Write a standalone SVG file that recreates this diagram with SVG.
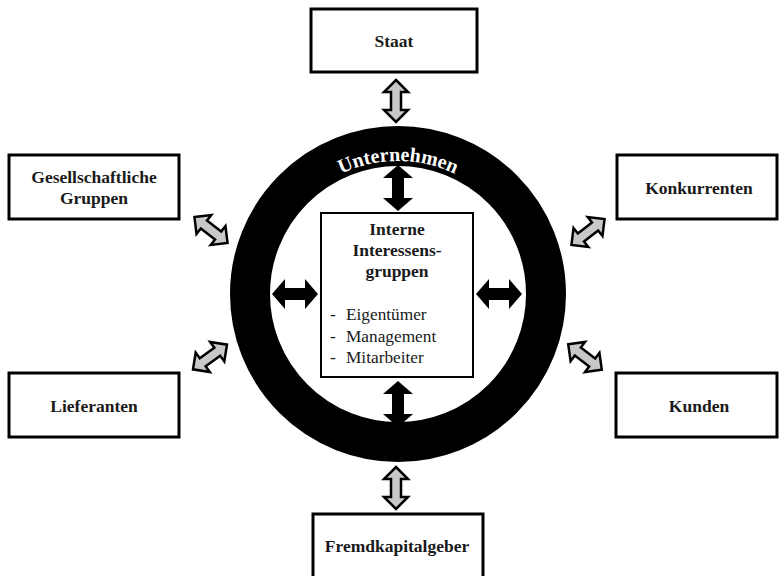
<svg xmlns="http://www.w3.org/2000/svg" width="780" height="576" viewBox="0 0 780 576">
<style>
.box{fill:#fff;stroke:#000;stroke-width:3}
.t{font-family:"Liberation Serif","Times New Roman",serif;font-weight:bold;font-size:17.5px;fill:#1a1a1a;text-anchor:middle}
.n{font-family:"Liberation Serif","Times New Roman",serif;font-size:17.3px;fill:#1a1a1a}
.ga{fill:#c8c8c8;stroke:#000;stroke-width:2.5;stroke-linejoin:miter}
.ba{fill:#000}
</style>
<defs>
<path id="garrow" class="ga" d="M -21 0 L -9 -12 L -9 -5 L 9 -5 L 9 -12 L 21 0 L 9 12 L 9 5 L -9 5 L -9 12 Z"/>
<path id="barrow" class="ba" d="M -23 0 L -10 -15 L -10 -6 L 10 -6 L 10 -15 L 23 0 L 10 15 L 10 6 L -10 6 L -10 15 Z"/>
<path id="arcpath" d="M 265 294 A 133 133 0 0 1 531 294"/>
</defs>
<rect width="780" height="576" fill="#fff"/>

<g id="ring">
<circle cx="398" cy="294" r="148" fill="none" stroke="#000" stroke-width="40"/>
<text font-family="'Liberation Serif','Times New Roman',serif" font-weight="bold" font-size="20" fill="#fff"><textPath href="#arcpath" startOffset="50%" text-anchor="middle">Unternehmen</textPath></text>
</g>

<g id="connectors">
<use href="#garrow" transform="translate(396,101) rotate(90)"/>
<use href="#garrow" transform="translate(396,488) rotate(90)"/>
<use href="#garrow" transform="translate(211,230) rotate(38)"/>
<use href="#garrow" transform="translate(588,232) rotate(-38)"/>
<use href="#garrow" transform="translate(210,357) rotate(-36)"/>
<use href="#garrow" transform="translate(585,357) rotate(37)"/>
<use href="#barrow" transform="translate(398,188) rotate(90)"/>
<use href="#barrow" transform="translate(398,404) rotate(90)"/>
<use href="#barrow" transform="translate(295,294)"/>
<use href="#barrow" transform="translate(499,294)"/>
</g>

<g id="staat">
<rect class="box" x="311" y="9" width="166" height="63"/>
<text class="t" x="394" y="47">Staat</text>
</g>
<g id="gesellschaftliche">
<rect class="box" x="9" y="155" width="170" height="64"/>
<text class="t" x="94" y="183">Gesellschaftliche</text>
<text class="t" x="94" y="204">Gruppen</text>
</g>
<g id="konkurrenten">
<rect class="box" x="617" y="155" width="160" height="64"/>
<text class="t" x="699" y="194">Konkurrenten</text>
</g>
<g id="lieferanten">
<rect class="box" x="9" y="373" width="170" height="64"/>
<text class="t" x="94" y="412">Lieferanten</text>
</g>
<g id="kunden">
<rect class="box" x="616" y="373" width="161" height="64"/>
<text class="t" x="699" y="412">Kunden</text>
</g>
<g id="fremdkapitalgeber">
<rect class="box" x="313" y="514" width="170" height="64"/>
<text class="t" x="397" y="552">Fremdkapitalgeber</text>
</g>
<g id="intern">
<rect x="321" y="213" width="152" height="164" fill="#fff" stroke="#000" stroke-width="2"/>
<text class="t" x="397" y="235">Interne</text>
<text class="t" x="397" y="256">Interessens-</text>
<text class="t" x="397" y="277">gruppen</text>
<text class="n" x="330" y="320">-</text>
<text class="n" x="346" y="320">Eigentümer</text>
<text class="n" x="330" y="342">-</text>
<text class="n" x="346" y="342">Management</text>
<text class="n" x="330" y="363">-</text>
<text class="n" x="346" y="363">Mitarbeiter</text>
</g>
</svg>
